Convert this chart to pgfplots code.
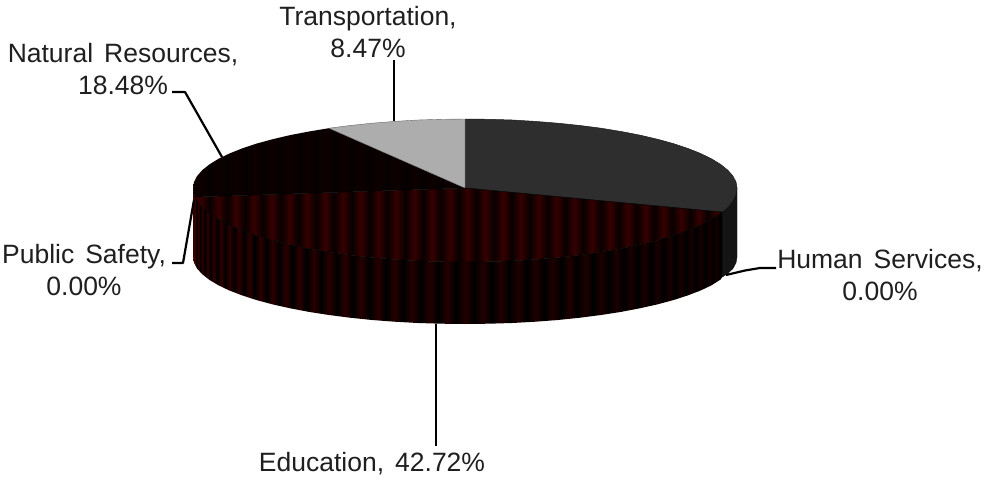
\documentclass[border=0pt]{standalone}
\usepackage{pgfplots}
\usepackage{pgfplotstable}
\usepackage{fontspec}
\setmainfont{Liberation Sans}[WordSpace=1.5]
\pgfplotsset{compat=1.18}
\tikzset{
  lbl/.style={font=\fontsize{26.5}{32}\selectfont, align=center, text=black!88, inner sep=0pt},
  leader/.style={black, line width=2.2pt},
}

% Flat ribbed shading: ribs every 17.8 units, fitted to a path spanning xmin..xmax
\newcommand{\ribshading}[5]{%
  \def\ribstops{rgb(0bp)=(#5,0,0)}%
  \foreach \k in {0,...,60}{%
    \pgfmathsetmacro{\ribx}{200.5+8.9*\k}%
    \pgfmathparse{(\ribx>#2 && \ribx<#3) ? 1 : 0}%
    \ifdim\pgfmathresult pt>0.5pt
      \pgfmathsetmacro{\ribpos}{25+(\ribx-#2)/(#3-#2)*50}%
      \pgfmathparse{int(mod(\k,2))}%
      \ifnum\pgfmathresult=0 \def\riblev{#4}\else \def\riblev{#5}\fi
      \xdef\ribstops{\ribstops; rgb(\ribpos bp)=(\riblev,0,0)}%
    \fi
  }%
  \xdef\ribstops{\ribstops; rgb(100bp)=(#5,0,0)}%
  \edef\ribdecl{\noexpand\pgfdeclarehorizontalshading{#1}{100bp}{\ribstops}}%
  \ribdecl
}
\ribshading{edutop}{195}{722.2}{0.21}{0.03}
\ribshading{nattop}{193}{465}{0.05}{0.025}

% Ribs on the rim follow the curve of the cylinder, so they close up towards the edge
\def\rimstops{rgb(0bp)=(0,0,0)}
\foreach \k in {-44,...,37}{%
  \pgfmathsetmacro{\rimpos}{25+(272+272*sin(\k*1.875))/529.2*50}%
  \pgfmathparse{int(mod(\k+100,2))}%
  \ifnum\pgfmathresult=0
    \pgfmathsetmacro{\rimlev}{0.20-0.0015*(\k+44)}%
  \else
    \def\rimlev{0}%
  \fi
  \xdef\rimstops{\rimstops; rgb(\rimpos bp)=(\rimlev,0,0)}%
}
\xdef\rimstops{\rimstops; rgb(100bp)=(0,0,0)}
\edef\rimdecl{\noexpand\pgfdeclarehorizontalshading{edurim}{100bp}{\rimstops}}
\rimdecl

% Top face, one outline per slice
\pgfplotstableread{
x y
465 188
465 119
488.7 119.3
512.2 120.0
535.4 121.4
558.0 123.2
580.0 125.5
601.0 128.2
621.0 131.5
639.8 135.1
657.3 139.2
673.4 143.6
687.8 148.4
700.6 153.5
711.5 158.8
720.6 164.4
727.7 170.1
732.9 176.0
736.0 182.0
737 188
736.0 194.4
732.9 200.9
727.7 207.2
722.2 212.1
465 188
}\slicerest

\pgfplotstableread{
x y
465 188
722.2 212.1
720.6 213.3
711.5 219.3
700.6 225
687.8 230.4
673.4 235.6
657.3 240.3
639.8 244.7
621 248.6
601 252.1
580 255.1
558 257.5
535.4 259.5
512.2 260.9
488.7 261.7
465 262
441.3 261.7
417.8 260.9
394.6 259.5
372 257.5
350 255.1
329 252.1
309 248.6
290.2 244.7
272.7 240.3
256.6 235.6
242.2 230.4
229.4 225
218.5 219.3
209.4 213.3
202.3 207.2
197.1 200.9
195 197
465 188
}\sliceeducation

\pgfplotstableread{
x y
465 188
195 197
194 194.4
193 188
194 182
197.1 176
202.3 170.1
209.4 164.4
218.5 158.8
229.4 153.5
242.2 148.4
256.6 143.6
272.7 139.2
290.2 135.1
309 131.5
329 128.2
465 188
}\slicenatural

\pgfplotstableread{
x y
465 188
329 128.2
350 125.5
372 123.2
394.6 121.4
417.8 120
441.3 119.3
465 119
465 188
}\slicetransport

% Rim below the top face
\pgfplotstableread{
x y
722.2 212.1
727.7 207.2
732.9 200.9
736.0 194.4
737 188
737 257
736.0 262.8
732.9 268.6
727.7 273.5
722.2 277
722.2 212.1
}\rimrest

\pgfplotstableread{
x y
722.2 212.1
720.6 213.3
711.5 219.3
700.6 225
687.8 230.4
673.4 235.6
657.3 240.3
639.8 244.7
621 248.6
601 252.1
580 255.1
558 257.5
535.4 259.5
512.2 260.9
488.7 261.7
465 262
441.3 261.7
417.8 260.9
394.6 259.5
372 257.5
350 255.1
329 252.1
309 248.6
290.2 244.7
272.7 240.3
256.6 235.6
242.2 230.4
229.4 225
218.5 219.3
209.4 213.3
202.3 207.2
197.1 200.9
195 197
193 188
193 257
194 262.8
197.1 268.6
202.3 274.3
209.4 279.9
218.5 285.3
229.4 290.5
242.2 295.4
256.6 300.1
272.7 304.4
290.2 308.3
309 311.9
329 315
350 317.7
372 320
394.6 321.7
417.8 323
441.3 323.7
465 324
488.7 323.7
512.2 323
535.4 321.7
558 320
580 317.7
601 315
621 311.9
639.8 308.3
657.3 304.4
673.4 300.1
687.8 295.4
700.6 290.5
711.5 285.3
720.6 279.5
722.2 277
722.2 212.1
}\rimeducation

\begin{document}
\begin{tikzpicture}
\useasboundingbox (0,0) rectangle (984pt,479pt);
\begin{axis}[
  at={(0,0)}, anchor=south west,
  hide axis, scale only axis, width=984pt, height=479pt,
  xmin=0, xmax=984, ymin=0, ymax=479, y dir=reverse,
  clip=false, no markers,
  every axis plot/.append style={forget plot, line join=round},
]
% rim
\addplot[fill=black!92, draw=black!95, line width=.4pt] table[x=x,y=y] {\rimrest} -- cycle;
\addplot[shade, shading=edurim, draw=none] table[x=x,y=y] {\rimeducation} -- cycle;
% top face
\addplot[fill=black!82, draw=black!90, line width=.5pt] table[x=x,y=y] {\slicerest} -- cycle;
\addplot[shade, shading=edutop, draw=none] table[x=x,y=y] {\sliceeducation} -- cycle;
\addplot[shade, shading=nattop, draw=none] table[x=x,y=y] {\slicenatural} -- cycle;
\addplot[fill=black!32, draw=black!60, line width=.4pt] table[x=x,y=y] {\slicetransport} -- cycle;
\addplot[black, line width=.5pt] table[x=x,y=y] {\sliceeducation};
% leader lines
\addplot[leader] coordinates {(172,92) (185,92) (222,157)};
\addplot[leader] coordinates {(394,60) (394,121)};
\addplot[leader] coordinates {(172,263) (183,263) (194,200)};
\addplot[leader] coordinates {(776,268) (760,268) (745,270.5) (726,275)};
\addplot[leader] coordinates {(436,324) (436,446)};
% labels
\node[lbl] at (axis cs:368,32) {Transportation,\\8.47\%};
\node[lbl] at (axis cs:123,69) {Natural Resources,\\18.48\%};
\node[lbl] at (axis cs:84,270) {Public Safety,\\0.00\%};
\node[lbl] at (axis cs:880,275) {Human Services,\\0.00\%};
\node[lbl] at (axis cs:372,464) {Education, 42.72\%};
\end{axis}
\end{tikzpicture}
\end{document}
